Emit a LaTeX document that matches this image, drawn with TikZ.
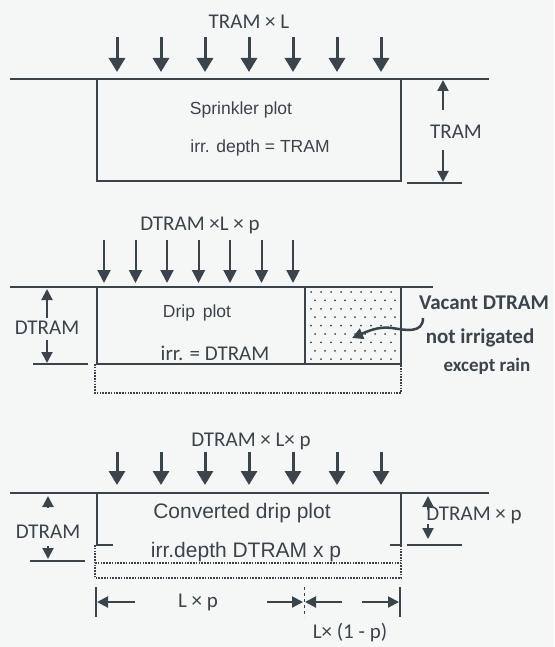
\documentclass[tikz,border=0pt]{standalone}
\usepackage{fontspec}
\setmainfont{Liberation Sans}
\newfontfamily\calib{Carlito}
\usepackage{tikz}
\usetikzlibrary{arrows.meta}
\definecolor{ink}{HTML}{3B434B}
\definecolor{paper}{HTML}{F5F7F7}

\begin{document}
\begin{tikzpicture}[x=1pt,y=-1pt,
  rain/.style={ink,line width=3pt,-{Triangle[width=16pt,length=14pt]}},
  thinrain/.style={ink,line width=2pt,-{Triangle[width=13pt,length=13pt]}},
  dimarrow/.style={ink,line width=2pt,-{Triangle[width=11pt,length=11pt]}},
  outline/.style={ink,line width=1.5pt},
  dotline/.style={ink,line width=1.5pt,dash pattern=on 1.6pt off 1.2pt},
  lbl/.style={text=ink,inner sep=0pt,font=\calib\fontsize{21}{24}\selectfont},
  txt/.style={text=ink,inner sep=0pt,font=\fontsize{17.5}{20}\selectfont},
  bigtxt/.style={text=ink,inner sep=0pt,font=\fontsize{21}{24}\selectfont}]
  \fill[paper] (0,0) rectangle (554,647);
  \useasboundingbox (0,0) rectangle (554,647);

  % sprinkler plot
  \node[lbl] (load1) at (249,22) {TRAM × L};
  \foreach \x in {117,161,...,381}
    \draw[rain] (\x,37) -- (\x,72);
  \draw[outline] (10,79) -- (489,79);
  \draw[outline] (97,79) rectangle (401,181);
  \node[txt] (name1) at (241,110) {Sprinkler plot};
  \node[txt] (irr1) at (260,148) {irr. depth = TRAM};
  \draw[outline] (407,183) -- (462,183);
  \node[lbl] (d1) at (456,132) {TRAM};
  \draw[dimarrow] (443,110) -- (443,80);
  \draw[dimarrow] (443,150) -- (443,182);

  % drip plot
  \node[lbl] (load2) at (200,225) {DTRAM ×L × p};
  \foreach \k in {0,...,6}
    \draw[thinrain] ({104+31.5*\k},240) -- ({104+31.5*\k},283);
  \draw[outline] (10,287) -- (433,287);
  \draw[outline] (97,287) rectangle (401,364);
  \draw[outline] (305,287) -- (305,364);
  \foreach \r in {0,...,8}
    \foreach \c in {0,...,8}
      \fill[ink] ({311+10*\c+4*mod(\r,2)},{292+8.4*\r}) circle (1pt);
  \draw[dotline] (95,364) -- (95,393) -- (401,393) -- (401,364);
  \node[txt] (name2) at (197,313) {Drip\, plot};
  \node[lbl] (irr2) at (215,353) {irr. = DTRAM};
  \draw[outline] (33,364) -- (88,364);
  \node[lbl] (d2) at (47,328) {DTRAM};
  \draw[dimarrow] (47,318) -- (47,289);
  \draw[dimarrow] (47,340) -- (47,363);
  \node[lbl,font=\calib\bfseries\fontsize{21}{24}\selectfont] (vac) at (484,303) {Vacant DTRAM};
  \node[lbl,font=\calib\bfseries\fontsize{21}{24}\selectfont] (notirr) at (480,338) {not irrigated};
  \node[lbl,font=\calib\bfseries\fontsize{19}{22}\selectfont] (rainonly) at (487,366) {except rain};
  \draw[ink,line width=2.5pt,-{Triangle[width=11pt,length=11pt]}]
    (423,318) .. controls (423,334) and (405,330) .. (392,328)
    .. controls (378,326) and (366,332) .. (352,338);

  % converted drip plot
  \node[lbl] (load3) at (251,441) {DTRAM × L× p};
  \foreach \x in {117,161,...,381}
    \draw[rain] (\x,452) -- (\x,485);
  \draw[outline] (10,493) -- (489,493);
  \draw[outline] (113,545) -- (97,545) -- (97,493);
  \draw[outline] (390,545) -- (401,545) -- (401,493);
  \draw[dotline] (95,545) -- (95,578) -- (401,578) -- (401,545);
  \draw[dotline] (95,563) -- (401,563);
  \node[bigtxt] (name3) at (242,513) {Converted drip plot};
  \node[bigtxt] (irr3) at (246,552) {irr.depth DTRAM x p};
  % left depth
  \draw[outline] (30,561) -- (85,561);
  \node[lbl] (d3) at (48,532) {DTRAM};
  \draw[dimarrow] (48,508) -- (48,496);
  \draw[dimarrow] (48,546) -- (48,559);
  % right depth
  \draw[outline] (407,545) -- (462,545);
  \node[lbl] (d4) at (474,515) {DTRAM × p};
  \draw[dimarrow] (428,510) -- (428,496);
  \draw[dimarrow] (428,524) -- (428,539);
  % widths
  \draw[outline] (96,587) -- (96,617);
  \draw[ink,line width=1pt,dashed] (304,587) -- (304,617);
  \draw[outline] (400,587) -- (400,617);
  \draw[dimarrow] (135,602) -- (97,602);
  \draw[dimarrow] (267,602) -- (303,602);
  \draw[dimarrow] (342,602) -- (305,602);
  \draw[dimarrow] (362,602) -- (399,602);
  \node[lbl] (wp) at (198,602) {L × p};
  \node[lbl] (wq) at (350,633) {L× (1 - p)};
\end{tikzpicture}
\end{document}
